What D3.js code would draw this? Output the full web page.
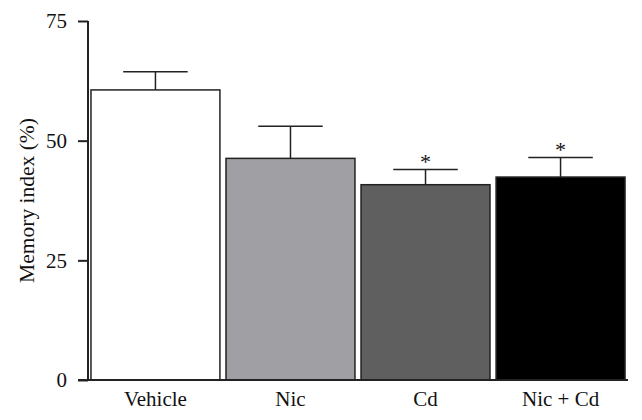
<!DOCTYPE html>
<html><head><meta charset="utf-8">
<script src="https://cdn.jsdelivr.net/npm/d3@7"></script>
<style>body{margin:0;background:#fff}svg{display:block}text{font-family:"Liberation Serif","DejaVu Serif",serif;fill:#111}</style>
</head><body><svg id="c" width="642" height="420"></svg>
<script>
const categories = ["Vehicle", "Nic", "Cd", "Nic + Cd"];
const means = [60.6, 46.3, 40.8, 42.4];
const errors = [3.8, 6.7, 3.2, 4.1];
const significant = [false, false, true, true];
const fills = ["#ffffff", "#a09fa4", "#5f5f5f", "#000000"];
const yTicks = [0, 25, 50, 75];

const svg = d3.select("#c");
const x = d3.scaleBand().domain(categories).range([88, 628]).paddingInner(0.045).paddingOuter(0.022);
const y = d3.scaleLinear().domain([0, 75]).range([380, 21]);

const bars = svg.append("g");
categories.forEach((c, i) => {
  const x0 = x(c), w = x.bandwidth(), cx = x0 + w / 2;
  bars.append("rect").attr("x", x0).attr("y", y(means[i])).attr("width", w).attr("height", y(0) - y(means[i]))
    .attr("fill", fills[i]).attr("stroke", "#222").attr("stroke-width", 1.5);
  const top = y(means[i] + errors[i]);
  bars.append("line").attr("x1", cx).attr("x2", cx).attr("y1", y(means[i])).attr("y2", top).attr("stroke", "#222").attr("stroke-width", 1.5);
  bars.append("line").attr("x1", cx - w / 4).attr("x2", cx + w / 4).attr("y1", top).attr("y2", top).attr("stroke", "#222").attr("stroke-width", 1.5);
  if (significant[i]) {
    bars.append("text").attr("x", cx).attr("y", top).attr("text-anchor", "middle").attr("font-size", 22).text("*");
  }
});

const yAxis = svg.append("g").attr("transform", "translate(88,0)")
  .call(d3.axisLeft(y).tickValues(yTicks).tickSize(10).tickPadding(11));
yAxis.select(".domain").attr("d", `M0,${y(75)}V${y(0)}`).attr("stroke", "#222").attr("stroke-width", 2);
yAxis.selectAll(".tick line").attr("stroke", "#222").attr("stroke-width", 2);
yAxis.selectAll("text").attr("font-size", 21).attr("font-family", "Liberation Serif").attr("fill", "#111");

const xAxis = svg.append("g").attr("transform", `translate(0,${y(0)})`)
  .call(d3.axisBottom(x).tickSize(0).tickPadding(11));
xAxis.select(".domain").attr("d", `M78,0H628`).attr("stroke", "#222").attr("stroke-width", 2);
xAxis.selectAll("text").attr("font-size", 21).attr("font-family", "Liberation Serif").attr("fill", "#111");

svg.append("text").attr("transform", `translate(34,${y(37.5)}) rotate(-90)`).attr("text-anchor", "middle")
  .attr("font-size", 21.5).text("Memory index (%)");
</script></body></html>
